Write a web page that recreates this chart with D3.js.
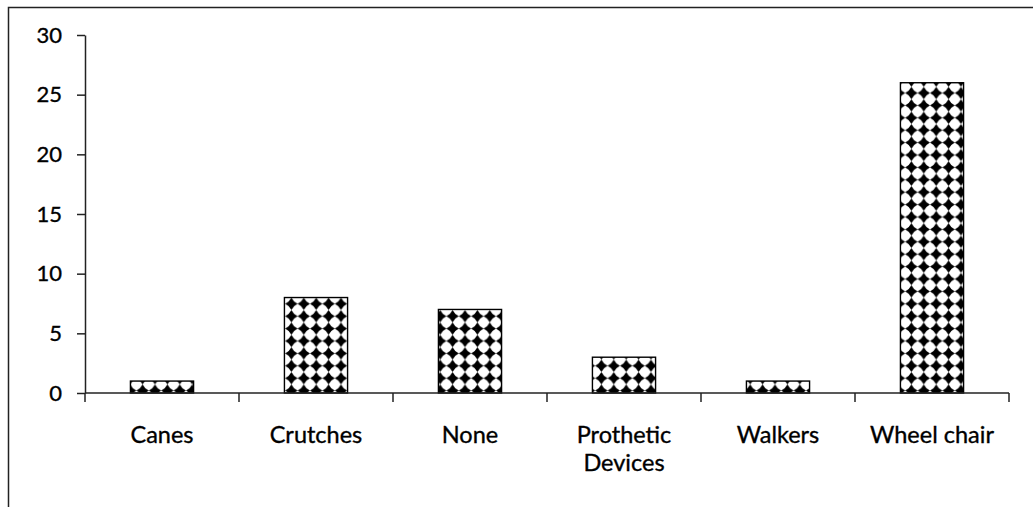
<!DOCTYPE html>
<html>
<head>
<meta charset="utf-8">
<script src="https://cdn.jsdelivr.net/npm/d3@7"></script>
<style>
  html, body { margin: 0; padding: 0; background: #fff; }
  svg { display: block; }
  text { font-family: Lato, "Noto Sans", sans-serif; fill: #000; stroke: #000; stroke-width: 0.35px; }
</style>
</head>
<body>
<svg id="chart" width="1033" height="507"></svg>
<script>
// Mobility aids used (counts per category)
const categories = ["Canes", "Crutches", "None", "Prothetic Devices", "Walkers", "Wheel chair"];
const counts = [1, 8, 7, 3, 1, 26];
const yTicks = [0, 5, 10, 15, 20, 25, 30];

const svg = d3.select("#chart");
const margin = { left: 85, top: 35, right: 1033 - 1009, bottom: 507 - 393 };
const width = 1033, height = 507;

// Diamond fill pattern for the bars
const P = 12.4, c = P / 2;
const defs = svg.append("defs");
const pat = defs.append("pattern")
  .attr("id", "diamonds")
  .attr("patternUnits", "userSpaceOnUse")
  .attr("width", P).attr("height", P);
pat.append("rect").attr("width", P).attr("height", P).attr("fill", "#fff");
const k1 = 0.66, k2 = 0.34;
pat.append("path")
  .attr("fill", "#000")
  .attr("d", `M${c},0 Q${k1 * P},${k2 * P} ${P},${c} Q${k1 * P},${k1 * P} ${c},${P} Q${k2 * P},${k1 * P} 0,${c} Q${k2 * P},${k2 * P} ${c},0 Z`);

// Outer frame (runs past the right and bottom edges)
svg.append("rect")
  .attr("x", 8.5).attr("y", 7.5)
  .attr("width", 1100).attr("height", 600)
  .attr("fill", "none").attr("stroke", "#222").attr("stroke-width", 1.5);

const x = d3.scaleBand()
  .domain(categories)
  .range([margin.left, width - margin.right])
  .paddingInner(0.59).paddingOuter(0.295);

const xOuter = d3.scaleBand()
  .domain(categories)
  .range([margin.left, width - margin.right]);

const y = d3.scaleLinear()
  .domain([0, 30])
  .range([height - margin.bottom, margin.top]);

// Bars
svg.append("g").selectAll("rect")
  .data(categories)
  .join("rect")
  .attr("x", d => x(d))
  .attr("width", x.bandwidth())
  .attr("y", (d, i) => y(counts[i]))
  .attr("height", (d, i) => y(0) - y(counts[i]))
  .attr("fill", "url(#diamonds)")
  .attr("stroke", "#000")
  .attr("stroke-width", 1.4);

// Y axis
const yAxis = svg.append("g")
  .attr("transform", `translate(${margin.left},0)`)
  .call(d3.axisLeft(y).tickValues(yTicks).tickSize(8).tickPadding(15).tickSizeOuter(0));
yAxis.select(".domain").attr("stroke", "#222").attr("stroke-width", 1.5);
yAxis.selectAll(".tick line").attr("stroke", "#222").attr("stroke-width", 1.5);
yAxis.selectAll(".tick text")
  .style("font-family", "Lato, 'Noto Sans', sans-serif")
  .style("font-size", "22px").attr("fill", "#000");

// X axis: baseline with ticks at category boundaries
const xAxisG = svg.append("g");
const x0 = y(0);
xAxisG.append("line")
  .attr("x1", margin.left).attr("x2", width - margin.right)
  .attr("y1", x0).attr("y2", x0)
  .attr("stroke", "#222").attr("stroke-width", 1.5);
const bounds = categories.map(d => xOuter(d) + xOuter.bandwidth()).concat([xOuter(categories[0])]);
xAxisG.selectAll("line.tick")
  .data(bounds)
  .join("line")
  .attr("class", "tick")
  .attr("x1", d => d).attr("x2", d => d)
  .attr("y1", x0).attr("y2", x0 + 9)
  .attr("stroke", "#222").attr("stroke-width", 1.5);

// Category labels (wrapped)
const labelLines = {
  "Prothetic Devices": ["Prothetic", "Devices"]
};
const lbl = xAxisG.selectAll("text")
  .data(categories)
  .join("text")
  .attr("text-anchor", "middle")
  .attr("x", d => xOuter(d) + xOuter.bandwidth() / 2)
  .attr("y", 443)
  .style("font-size", "23.5px");
lbl.each(function (d) {
  const lines = labelLines[d] || [d];
  const t = d3.select(this);
  lines.forEach((s, i) => {
    t.append("tspan")
      .attr("x", xOuter(d) + xOuter.bandwidth() / 2)
      .attr("dy", i === 0 ? 0 : 28)
      .text(s);
  });
});
</script>
</body>
</html>
